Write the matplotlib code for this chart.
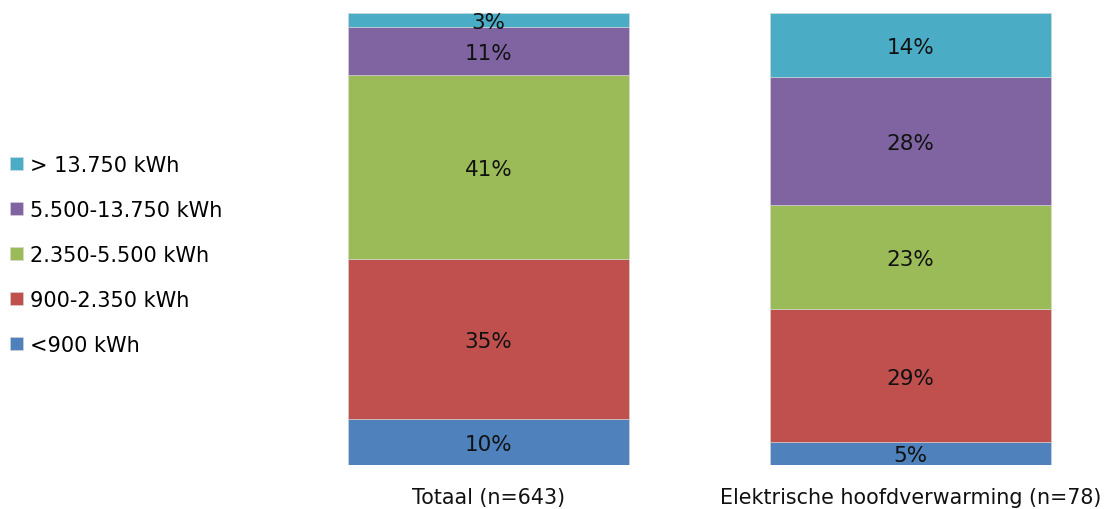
import matplotlib
matplotlib.use('Agg')
import matplotlib.pyplot as plt
import numpy as np

categories = ['Totaal (n=643)', 'Elektrische hoofdverwarming (n=78)']
series = ['<900 kWh', '900-2.350 kWh', '2.350-5.500 kWh', '5.500-13.750 kWh', '> 13.750 kWh']
values = [
    [10.2, 5.1],   # <900
    [35.4, 29.4],  # 900-2.350
    [40.7, 23.0],  # 2.350-5.500
    [10.6, 28.3],  # 5.500-13.750
    [3.1, 14.2],   # > 13.750
]
labels = [
    ['10%', '5%'],
    ['35%', '29%'],
    ['41%', '23%'],
    ['11%', '28%'],
    ['3%', '14%'],
]
colors = ['#4F81BD', '#C0504D', '#9BBB59', '#8064A2', '#4BACC6']

fig = plt.figure(figsize=(11.05, 5.10), dpi=100)
ax = fig.add_axes([300/1105, 44/510, 800/1105, 452/510])

x = np.arange(len(categories))
bottom = np.zeros(len(categories))
handles = []
for name, vals, labs, c in zip(series, values, labels, colors):
    vals = np.array(vals)
    b = ax.bar(x, vals, 0.666, bottom=bottom, color=c, label=name,
               edgecolor='#d8d8d8', linewidth=0.4)
    handles.append(b)
    for xi, v, bt, lab in zip(x, vals, bottom, labs):
        ax.text(xi, bt + v / 2, lab, ha='center', va='center_baseline',
                fontsize=15.5, color='#111111')
    bottom += vals

ax.set_xlim((300 - 488.5) / 422, (1100 - 488.5) / 422)
ax.set_ylim(0, bottom.max())
ax.set_xticks(x)
ax.set_xticklabels(categories, fontsize=14.9, color='#111111')
ax.tick_params(axis='x', length=0, pad=16)
ax.set_yticks([])
for s in ax.spines.values():
    s.set_visible(False)

fig.legend(handles[::-1], series[::-1], loc='center left',
           bbox_to_anchor=(10/1105, 0.498), frameon=False,
           fontsize=15, handlelength=0.6, handleheight=0.6,
           handletextpad=0.38, labelspacing=1.2, borderpad=0,
           borderaxespad=0)

plt.savefig('out.png', dpi=100)
